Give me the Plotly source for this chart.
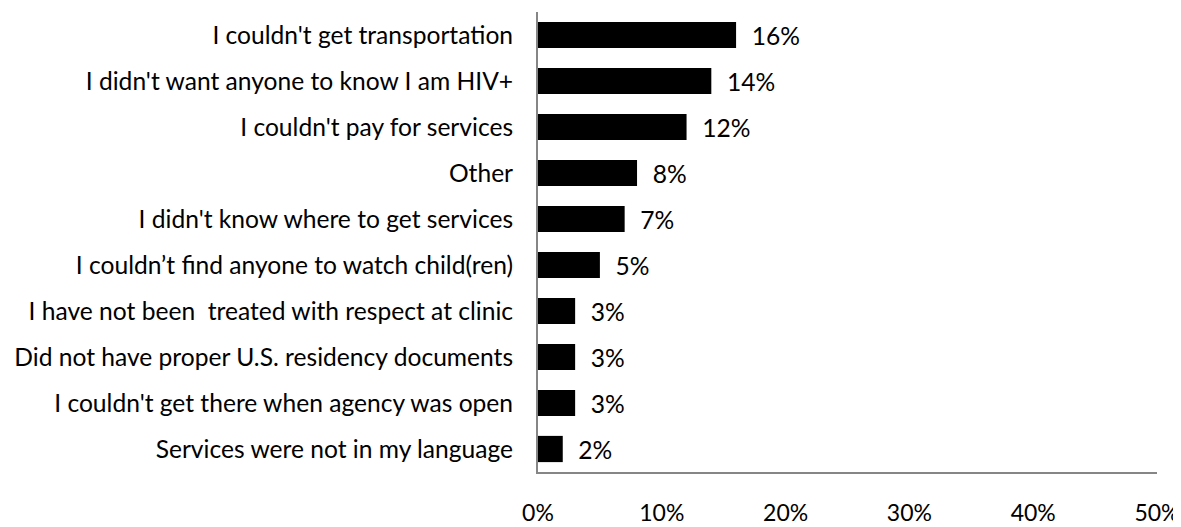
import plotly.graph_objects as go

# reasons, top to bottom as in the chart
reasons = [
    "I couldn't get transportation",
    "I didn't want anyone to know I am HIV+",
    "I couldn't pay for services",
    "Other",
    "I didn't know where to get services",
    "I couldn’t find anyone to watch child(ren)",
    "I have not been\u00a0 treated with respect at clinic",
    "Did not have proper U.S. residency documents",
    "I couldn't get there when agency was open",
    "Services were not in my language",
]
shares = [0.16, 0.14, 0.12, 0.08, 0.07, 0.05, 0.03, 0.03, 0.03, 0.02]

tick_vals = [0, 0.1, 0.2, 0.3, 0.4, 0.5]
tick_text = ["0%", "10%", "20%", "30%", "40%", "50%"]

font_name = "Lato, 'Open Sans', sans-serif"
fsize = 24.6

fig = go.Figure()
fig.add_trace(go.Bar(
    x=shares,
    y=reasons,
    orientation="h",
    marker=dict(color="black", line=dict(width=0)),
    # leading spaces push the labels a bit further from the bar ends
    text=["\u00a0\u00a0" + f"{v * 100:.0f}%" for v in shares],
    textposition="outside",
    textfont=dict(size=fsize, color="black", family=font_name),
    cliponaxis=False,
))

# the page body adds an 8px margin, so the figure is a bit smaller than the window
fig.update_layout(
    width=1173,
    height=519,
    margin=dict(l=530, r=24, t=4, b=55),
    paper_bgcolor="white",
    plot_bgcolor="white",
    bargap=0.43,
    showlegend=False,
    font=dict(family=font_name, size=fsize, color="black"),
    uniformtext=dict(minsize=fsize, mode="show"),
    xaxis=dict(
        range=[0, 0.5],
        tickvals=tick_vals,
        ticktext=tick_text,
        showgrid=False,
        zeroline=False,
        showline=True,
        linecolor="#868686",
        linewidth=2,
        ticks="",
        ticklabelstandoff=19,
        ticklabeloverflow="allow",
        tickfont=dict(size=23, color="black"),
        automargin=False,
    ),
    yaxis=dict(
        autorange="reversed",
        showgrid=False,
        showline=True,
        linecolor="#868686",
        linewidth=2,
        ticks="",
        ticklabelstandoff=18,
        ticklabeloverflow="allow",
        tickfont=dict(size=fsize, color="black"),
        automargin=False,
    ),
)

fig.write_html("out.html")
